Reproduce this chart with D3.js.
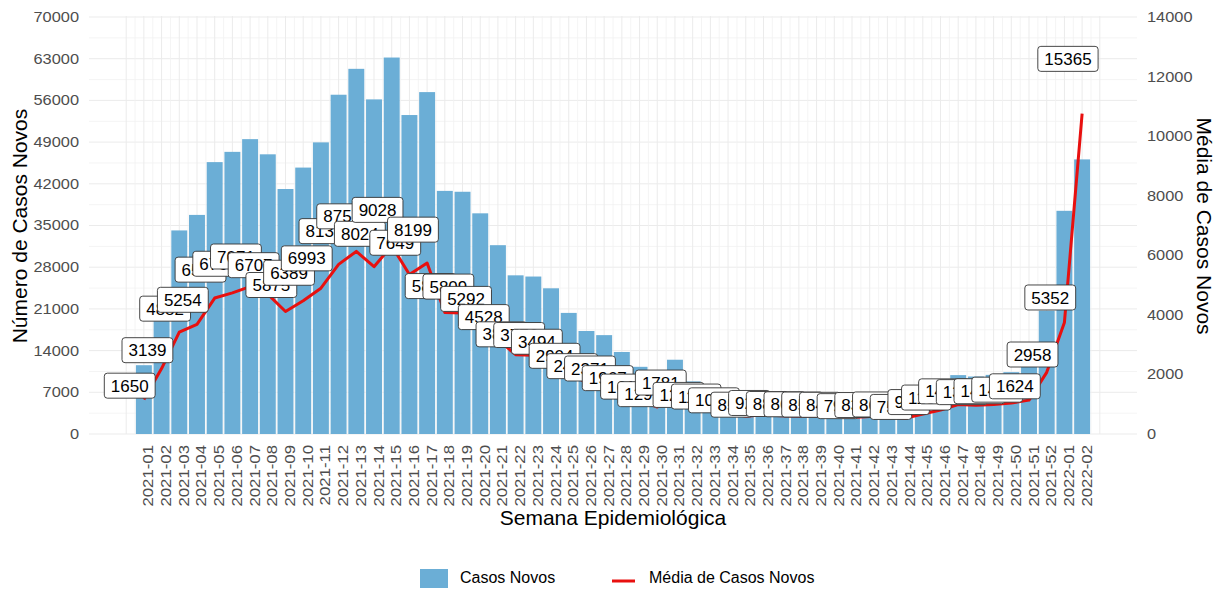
<!DOCTYPE html>
<html>
<head>
<meta charset="utf-8">
<script src="https://cdn.jsdelivr.net/npm/d3@7"></script>
<style>
    body { margin: 0; background: #ffffff; }
    svg { font-family: "Liberation Sans", Arial, sans-serif; }
</style>
</head>
<body>
<svg id="vis" width="1221" height="590"></svg>
<script>
// semanas epidemiologicas (eixo x)
const SEMANAS = [
    "2021-01", "2021-02", "2021-03", "2021-04", "2021-05", "2021-06", "2021-07", "2021-08", "2021-09", "2021-10",
    "2021-11", "2021-12", "2021-13", "2021-14", "2021-15", "2021-16", "2021-17", "2021-18", "2021-19", "2021-20",
    "2021-21", "2021-22", "2021-23", "2021-24", "2021-25", "2021-26", "2021-27", "2021-28", "2021-29", "2021-30",
    "2021-31", "2021-32", "2021-33", "2021-34", "2021-35", "2021-36", "2021-37", "2021-38", "2021-39", "2021-40",
    "2021-41", "2021-42", "2021-43", "2021-44", "2021-45", "2021-46", "2021-47", "2021-48", "2021-49", "2021-50",
    "2021-51", "2021-52", "2022-01", "2022-02"
];

// casos novos por semana (barras, eixo esquerdo)
const CASOS_NOVOS = [
    11550, 21973, 34174, 36778, 45640, 47362, 49497, 46949, 41125, 44723,
    48951, 56952, 61299, 56168, 63196, 53543, 57393, 40810, 40663, 37044,
    31696, 26635, 26432, 24458, 20328, 17290, 16597, 13769, 11277, 9065,
    12467, 8834, 8358, 7252, 5964, 6468, 6167, 6083, 6006, 5929,
    5537, 5866, 6034, 5306, 6734, 8064, 9884, 9653, 9926, 10381,
    11368, 20706, 37464, 46095
];

// media diaria de casos novos (linha e rotulos)
const MEDIA_CASOS = [
    1650, 3139, 4882, 5254, 6520, 6766, 7071, 6707, 5875, 6389,
    6993, 8136, 8757, 8024, 9028, 7649, 8199, 5830, 5809, 5292,
    4528, 3805, 3776, 3494, 2904, 2470, 2371, 1967, 1611, 1295,
    1781, 1262, 1194, 1036, 852, 924, 881, 869, 858, 847,
    791, 838, 862, 758, 962, 1152, 1412, 1379, 1418, 1483,
    1624, 2958, 5352, 15365
];

const TICKS_ESQUERDA = [0, 7000, 14000, 21000, 28000, 35000, 42000, 49000, 56000, 63000, 70000];
const TICKS_DIREITA = [0, 2000, 4000, 6000, 8000, 10000, 12000, 14000];

const PANEL = {left: 89, right: 1137, top: 16, bottom: 434};
const COR_BARRA = "#6baed6";
const COR_LINHA = "#e8100f";
const COR_GRADE = "#ebebeb";
const COR_TEXTO_EIXO = "#4d4d4d";

const svg = d3.select("#vis");

// escalas
const x = d3.scalePoint()
    .domain(SEMANAS)
    .range([PANEL.left, PANEL.right])
    .padding(3.1);
const step = x.step();
const larguraBarra = step * 0.9;

const yEsq = d3.scaleLinear().domain([0, 70000]).range([PANEL.bottom, 17]);
const yDir = d3.scaleLinear().domain([0, 14000]).range([PANEL.bottom, 17]);
// a linha e os rotulos foram desenhados com fatores diferentes do eixo secundario
const yLinha = d3.scaleLinear().domain([0, 20000]).range([PANEL.bottom, 17]);
const yRotulo = d3.scaleLinear().domain([0, 17500]).range([PANEL.bottom, 17]);

const dados = SEMANAS.map((s, i) => ({semana: s, casos: CASOS_NOVOS[i], media: MEDIA_CASOS[i]}));

// grade
const grade = svg.append("g");
const menores = d3.range(3500, 70000, 7000);
grade.selectAll("line.menor")
    .data(menores)
    .enter().append("line")
    .attr("x1", PANEL.left).attr("x2", PANEL.right)
    .attr("y1", d => yEsq(d)).attr("y2", d => yEsq(d))
    .attr("stroke", "#f1f1f1").attr("stroke-width", 0.8);
grade.selectAll("line.maior")
    .data(TICKS_ESQUERDA)
    .enter().append("line")
    .attr("x1", PANEL.left).attr("x2", PANEL.right)
    .attr("y1", d => yEsq(d)).attr("y2", d => yEsq(d))
    .attr("stroke", COR_GRADE).attr("stroke-width", 1);

const x0 = x(SEMANAS[0]);
grade.selectAll("line.vert")
    .data(d3.range(-2, 2 * SEMANAS.length + 1))
    .enter().append("line")
    .attr("x1", k => x0 + k * step / 2).attr("x2", k => x0 + k * step / 2)
    .attr("y1", PANEL.top).attr("y2", PANEL.bottom)
    .attr("stroke", k => k % 2 === 0 ? COR_GRADE : "#f1f1f1")
    .attr("stroke-width", k => k % 2 === 0 ? 1 : 0.8);

// barras
svg.append("g").selectAll("rect")
    .data(dados)
    .enter().append("rect")
    .attr("x", d => x(d.semana) - larguraBarra / 2)
    .attr("y", d => yEsq(d.casos))
    .attr("width", larguraBarra)
    .attr("height", d => yEsq(0) - yEsq(d.casos))
    .attr("fill", COR_BARRA);

// linha da media
const linha = d3.line()
    .x(d => x(d.semana))
    .y(d => yLinha(d.media));
svg.append("path")
    .datum(dados)
    .attr("d", linha)
    .attr("fill", "none")
    .attr("stroke", COR_LINHA)
    .attr("stroke-width", 3)
    .attr("stroke-linejoin", "round");

// rotulos
const rotulos = svg.append("g").selectAll("g")
    .data(dados)
    .enter().append("g")
    .attr("transform", d => `translate(${x(d.semana) - 0.8 * step}, ${yRotulo(d.media) - 9})`);
rotulos.append("rect");
rotulos.append("text")
    .attr("text-anchor", "middle")
    .attr("dy", "0.36em")
    .attr("font-size", 17)
    .attr("fill", "#000")
    .text(d => d.media);
rotulos.each(function() {
    const g = d3.select(this);
    const w = g.select("text").node().getComputedTextLength() + 13;
    g.select("rect")
        .attr("x", -w / 2).attr("y", -12.5)
        .attr("width", w).attr("height", 25)
        .attr("rx", 3)
        .attr("fill", "#fff")
        .attr("stroke", "#333")
        .attr("stroke-width", 0.9);
});

// eixos (d3.axis escreve font-size 10 no grupo, por isso o estilo vem depois do call)
function estiloEixo(g) {
    g.attr("font-size", 14).attr("font-family", null);
    g.select(".domain").remove();
}

const eixoEsq = d3.axisLeft(yEsq).tickValues(TICKS_ESQUERDA).tickSize(0).tickPadding(0).tickFormat(d3.format("d"));
svg.append("g")
    .attr("transform", "translate(79,0)")
    .call(eixoEsq)
    .call(estiloEixo)
    .selectAll("text")
    .attr("x", 0)
    .attr("fill", COR_TEXTO_EIXO)
    .attr("transform", "scale(1.17,1)");

const eixoDir = d3.axisRight(yDir).tickValues(TICKS_DIREITA).tickSize(0).tickPadding(0).tickFormat(d3.format("d"));
svg.append("g")
    .attr("transform", "translate(1147,0)")
    .call(eixoDir)
    .call(estiloEixo)
    .selectAll("text")
    .attr("x", 0)
    .attr("fill", COR_TEXTO_EIXO)
    .attr("transform", "scale(1.17,1)");

const eixoX = d3.axisBottom(x).tickSize(0);
svg.append("g")
    .attr("transform", "translate(0,445)")
    .call(eixoX)
    .call(estiloEixo)
    .selectAll("text")
    .attr("x", 0).attr("y", 0).attr("dy", null)
    .attr("text-anchor", "end")
    .attr("fill", COR_TEXTO_EIXO)
    .attr("transform", "translate(9,0) rotate(-90) scale(1.2,1)");

// titulos
svg.append("text")
    .attr("transform", "translate(27,226) rotate(-90)")
    .attr("text-anchor", "middle")
    .attr("font-size", 21)
    .text("Número de Casos Novos");
svg.append("text")
    .attr("transform", "translate(1197,226) rotate(90)")
    .attr("text-anchor", "middle")
    .attr("font-size", 21)
    .text("Média de Casos Novos");
svg.append("text")
    .attr("x", (PANEL.left + PANEL.right) / 2)
    .attr("y", 525)
    .attr("text-anchor", "middle")
    .attr("font-size", 21)
    .text("Semana Epidemiológica");

// legenda
const legenda = svg.append("g");
legenda.append("rect")
    .attr("x", 420).attr("y", 569)
    .attr("width", 28).attr("height", 19)
    .attr("fill", COR_BARRA);
legenda.append("text")
    .attr("x", 460).attr("y", 583)
    .attr("font-size", 16)
    .text("Casos Novos");
legenda.append("line")
    .attr("x1", 612).attr("x2", 635)
    .attr("y1", 581).attr("y2", 581)
    .attr("stroke", COR_LINHA)
    .attr("stroke-width", 3);
legenda.append("text")
    .attr("x", 649).attr("y", 583)
    .attr("font-size", 16)
    .text("Média de Casos Novos");
</script>
</body>
</html>
